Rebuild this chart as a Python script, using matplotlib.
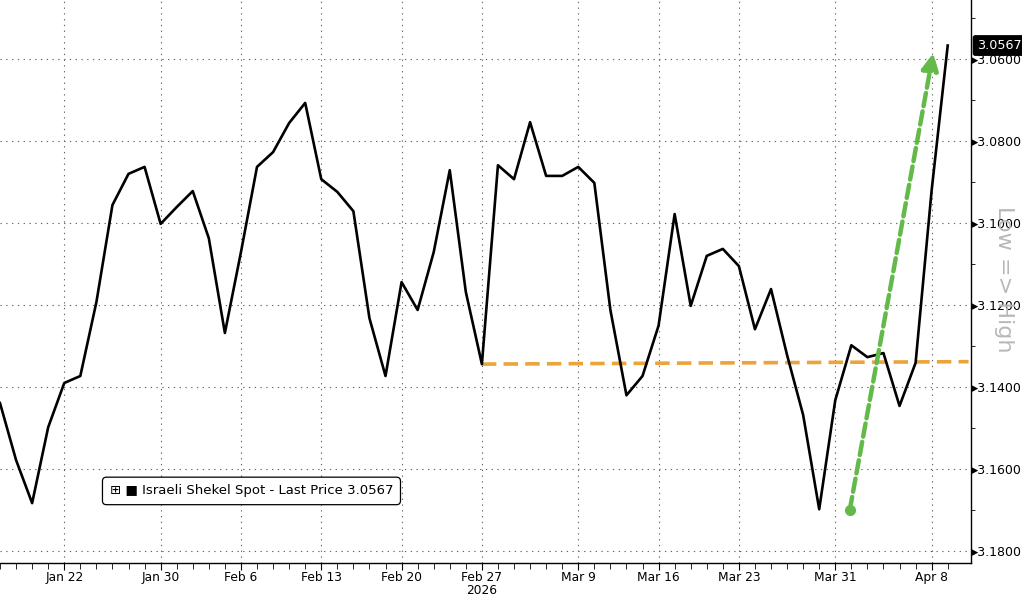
import numpy as np
import pandas as pd
import matplotlib
matplotlib.use("Agg")
import matplotlib.pyplot as plt

# Israeli shekel spot, business days Jan 16 - Apr 9 2026
dates = pd.bdate_range("2026-01-16", "2026-04-09")
prices = [
    3.1439, 3.1578, 3.1683, 3.1498, 3.1390, 3.1373, 3.1193, 3.0956, 3.0880, 3.0863,
    3.1002, 3.0961, 3.0922, 3.1037, 3.1268, 3.1071, 3.0863, 3.0827, 3.0756, 3.0707,
    3.0893, 3.0924, 3.0971, 3.1232, 3.1373, 3.1144, 3.1212, 3.1071, 3.0871, 3.1168,
    3.1344, 3.0859, 3.0893, 3.0754, 3.0885, 3.0885, 3.0863, 3.0902, 3.1212, 3.1420,
    3.1373, 3.1250, 3.0978, 3.1202, 3.1080, 3.1063, 3.1105, 3.1259, 3.1161, 3.1322,
    3.1468, 3.1698, 3.1432, 3.1298, 3.1327, 3.1317, 3.1446, 3.1341, 3.0920, 3.0567,
]
last_price = 3.0567

tick_dates = ["2026-01-22", "2026-01-30", "2026-02-06", "2026-02-13", "2026-02-20",
              "2026-02-27", "2026-03-09", "2026-03-16", "2026-03-23", "2026-03-31",
              "2026-04-08"]
tick_labels = ["Jan 22", "Jan 30", "Feb 6", "Feb 13", "Feb 20", "Feb 27\n2026",
               "Mar 9", "Mar 16", "Mar 23", "Mar 31", "Apr 8"]
y_ticks = [3.06, 3.08, 3.10, 3.12, 3.14, 3.16, 3.18]

# support line (orange) and breakout arrow (green)
support_start = "2026-02-27"
support_level = [3.1344, 3.1338]
arrow_start = (52.9, 3.1700)
arrow_end = (58.1, 3.0585)

x = np.arange(len(dates))
pos = {d: i for i, d in enumerate(dates)}
tick_pos = [pos[pd.Timestamp(d)] for d in tick_dates]

fig = plt.figure(figsize=(10.22, 5.95), dpi=100)
ax = fig.add_axes([0.0, 0.0538, 0.9501, 0.9462])

ax.plot(x, prices, color="black", linewidth=1.9, zorder=4)

xs = pos[pd.Timestamp(support_start)]
ax.plot([xs, 60.3], support_level, color="#eaa43a", linewidth=2.6,
        linestyle=(0, (4, 2)), zorder=3)

ax.plot(*arrow_start, marker="o", color="#63ba49", markersize=7, zorder=5)
ax.annotate("", xy=arrow_end, xytext=arrow_start,
            arrowprops=dict(arrowstyle="-|>,head_length=1.0,head_width=0.5",
                            color="#63ba49", lw=3.2, linestyle=(0, (3, 1.2)),
                            shrinkA=0, shrinkB=0),
            zorder=5)

ax.set_xlim(0, 60.45)
ax.set_ylim(3.1829, 3.0456)

ax.yaxis.tick_right()
ax.set_yticks(y_ticks)
ax.set_yticklabels(["\u25b8" + f"{v:.4f}" for v in y_ticks])
ax.set_yticks(np.arange(3.05, 3.1801, 0.01), minor=True)
ax.set_xticks(tick_pos)
ax.set_xticklabels(tick_labels, linespacing=0.95)
ax.set_xticks(x, minor=True)

ax.tick_params(axis="y", which="major", length=0, pad=1, labelsize=9)
ax.tick_params(axis="y", which="minor", length=3, direction="out")
ax.tick_params(axis="x", which="major", length=5, labelsize=8.8, pad=1)
ax.tick_params(axis="x", which="minor", length=4)

for s in ["top", "left"]:
    ax.spines[s].set_visible(False)
ax.spines["right"].set_linewidth(1.0)
ax.spines["bottom"].set_linewidth(1.0)

ax.grid(True, which="major", color="#666666", linestyle=(0, (1.2, 4)), linewidth=0.8)

ax.text(0.113, 0.128, "\u229e \u25a0 Israeli Shekel Spot - Last Price 3.0567",
        transform=ax.transAxes, fontsize=9.5, va="center", ha="left",
        bbox=dict(boxstyle="round,pad=0.55,rounding_size=0.3", fc="white", ec="black", lw=0.9),
        zorder=6)

ax.annotate(f"{last_price:.4f}", xy=(1.0, last_price), xycoords=("axes fraction", "data"),
            xytext=(4, 0), textcoords="offset points", color="white", fontsize=9.2,
            va="center", ha="left",
            bbox=dict(boxstyle="round,pad=0.25,rounding_size=0.15", fc="black", ec="black"),
            annotation_clip=False, zorder=7)

fig.text(0.982, 0.53, "Low => High", rotation=-90, color="#b8b8b8", fontsize=16,
         ha="center", va="center")

fig.savefig("out.png", dpi=100)
